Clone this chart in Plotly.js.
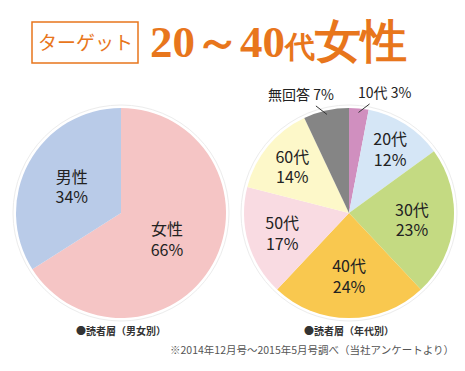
<!DOCTYPE html>
<html>
<head>
<meta charset="utf-8">
<script src="https://cdn.plot.ly/plotly-3.0.1.min.js"></script>
<style>html,body{margin:0;padding:0;background:#fff;}#chart{width:465px;height:371px;}</style>
</head>
<body>
<div id="chart"></div>
<script>
// ---- data ----
const genderLabels = ['女性', '男性'];
const genderValues = [66, 34];
const ageLabels = ['10代', '20代', '30代', '40代', '50代', '60代', '無回答'];
const ageValues = [3, 12, 23, 24, 17, 14, 7];
const outsideAgeLabels = ['10代', '無回答'];
const titleTag = 'ターゲット';
const titleMain = '20～40';
const titleDai = '代';
const titleWomen = '女性';
const captionGender = '●読者層（男女別）';
const captionAge = '●読者層（年代別）';
const footnote = '※2014年12月号～2015年5月号調べ（当社アンケートより）';

// ---- styles ----
const genderColors = ['#f5c5c5', '#b9cbe8'];
const ageColors = ['#d08fbf', '#d5e6f6', '#c4da82', '#f9c84f', '#f9dbe2', '#fdf8c9', '#858585'];
const orange = '#e8761c';
const W = 465, H = 371;
const px = x => x / W;
const py = y => 1 - y / H;

// pie geometry in pixels
const leftPie = {cx: 121, cy: 213, r: 105};
const rightPie = {cx: 349, cy: 213, r: 105};
const dom = p => ({x: [px(p.cx - p.r), px(p.cx + p.r)], y: [py(p.cy + p.r), py(p.cy - p.r)]});

const labelFont = {family: 'Noto Sans CJK JP, sans-serif', size: 16, color: '#222'};

const traces = [
  {
    type: 'pie', labels: genderLabels, values: genderValues, sort: false,
    direction: 'clockwise', rotation: 0, domain: dom(leftPie),
    marker: {colors: genderColors, line: {width: 0}},
    texttemplate: '%{label}<br>%{value}%', textposition: 'inside',
    insidetextorientation: 'horizontal', textfont: labelFont,
    hoverinfo: 'none', showlegend: false
  },
  {
    type: 'pie', labels: ageLabels, values: ageValues, sort: false,
    direction: 'clockwise', rotation: 0, domain: dom(rightPie),
    marker: {colors: ageColors, line: {width: 0}},
    texttemplate: ageLabels.map(l => outsideAgeLabels.includes(l) ? '' : '%{label}<br>%{value}%'),
    textposition: 'inside', insidetextorientation: 'horizontal', textfont: labelFont,
    hoverinfo: 'none', showlegend: false
  }
];

// outside labels with leader lines, positioned from slice angles
const total = ageValues.reduce((a, b) => a + b, 0);
const annotations = [];
let cum = 0;
ageValues.forEach((v, i) => {
  const mid = (cum + v / 2) / total * 2 * Math.PI;
  cum += v;
  if (!outsideAgeLabels.includes(ageLabels[i])) return;
  const tipR = rightPie.r - 4;
  const tx = rightPie.cx + tipR * Math.sin(mid);
  const ty = rightPie.cy - tipR * Math.cos(mid);
  const dir = Math.sin(mid) >= 0 ? 1 : -1;
  annotations.push({
    x: px(tx), y: py(ty), xref: 'paper', yref: 'paper',
    text: ageLabels[i] + ' ' + ageValues[i] + '%',
    showarrow: true, arrowhead: 0, arrowwidth: 1, arrowcolor: '#333',
    ax: dir * 26, ay: -20, font: {family: 'Noto Sans CJK JP, sans-serif', size: 14, color: '#222'}
  });
});

const txt = (x, y, text, font, xanchor) => ({x: px(x), y: py(y), xref: 'paper', yref: 'paper',
  xanchor: xanchor || 'center', yanchor: 'middle', showarrow: false, text: text, font: font});

annotations.push(
  txt(85, 42, titleTag, {family: 'Noto Sans CJK JP, serif', size: 19, color: orange}),
  txt(148, 41, '<b>' + titleMain + '<span style="font-size:30px">' + titleDai + '</span><span style="font-size:46px">' + titleWomen + '</span></b>',
      {family: 'Liberation Serif, DejaVu Serif, serif', size: 45, color: orange}, 'left'),
  txt(leftPie.cx, 330, '<b>' + captionGender + '</b>', {family: 'Noto Sans CJK JP, sans-serif', size: 10, color: '#333'}),
  txt(rightPie.cx, 330, '<b>' + captionAge + '</b>', {family: 'Noto Sans CJK JP, sans-serif', size: 10, color: '#333'}),
  txt(456, 349, footnote, {family: 'Noto Sans CJK JP, sans-serif', size: 10.5, color: '#555'}, 'right')
);

const ring = p => ({type: 'circle', xref: 'paper', yref: 'paper', layer: 'below',
  x0: px(p.cx - p.r - 3), x1: px(p.cx + p.r + 3), y0: py(p.cy + p.r + 3), y1: py(p.cy - p.r - 3),
  line: {color: '#ececec', width: 1}, fillcolor: 'rgba(0,0,0,0)'});

const layout = {
  width: W, height: H, margin: {l: 0, r: 0, t: 0, b: 0},
  paper_bgcolor: '#fff', plot_bgcolor: '#fff',
  annotations: annotations,
  shapes: [
    {type: 'rect', xref: 'paper', yref: 'paper', x0: px(32), x1: px(138), y0: py(63), y1: py(22),
     line: {color: orange, width: 1.5}, fillcolor: 'rgba(0,0,0,0)'},
    ring(leftPie), ring(rightPie)
  ]
};

Plotly.newPlot('chart', traces, layout, {displayModeBar: false, staticPlot: true});
</script>
</body>
</html>
